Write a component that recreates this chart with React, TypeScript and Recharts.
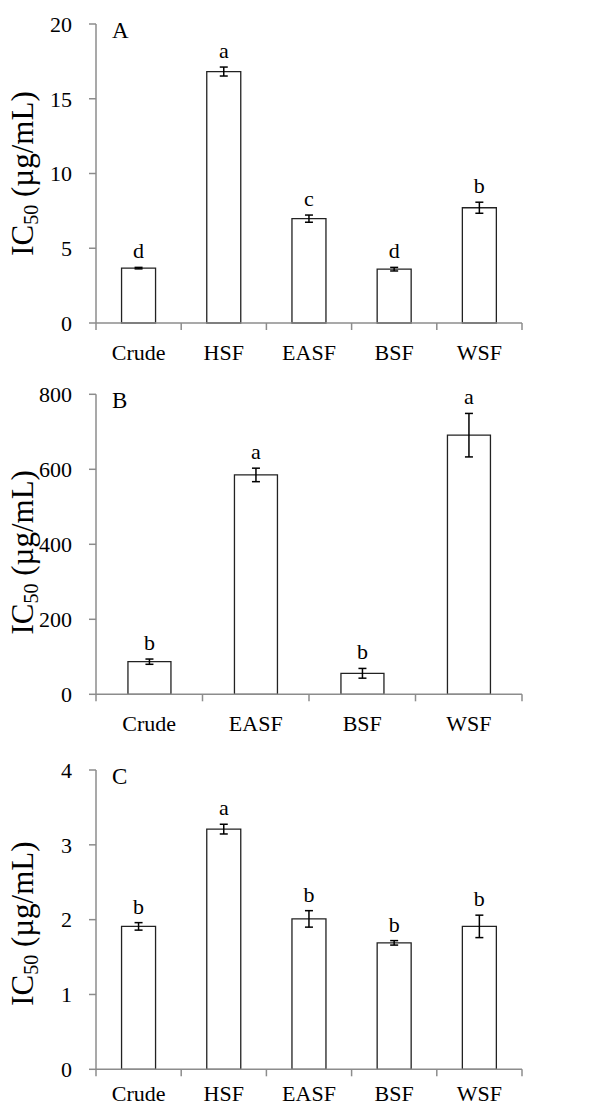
import React from "react";
import { BarChart, Bar, XAxis, YAxis, ErrorBar, Label, LabelList } from "recharts";

const SERIF = "'Liberation Serif', 'Times New Roman', serif";
const AXIS = "#8c8c8c";

// panel A
const catsA = ["Crude", "HSF", "EASF", "BSF", "WSF"];
const ic50A = [3.67, 16.82, 6.98, 3.6, 7.71];
const errA = [0.05, 0.3, 0.24, 0.12, 0.37];
const sigA = ["d", "a", "c", "d", "b"];
const ticksA = [0, 5, 10, 15, 20];

// panel B
const catsB = ["Crude", "EASF", "BSF", "WSF"];
const ic50B = [87, 585, 56, 691];
const errB = [7, 18, 13, 58];
const sigB = ["b", "a", "b", "a"];
const ticksB = [0, 200, 400, 600, 800];

// panel C
const catsC = ["Crude", "HSF", "EASF", "BSF", "WSF"];
const ic50C = [1.91, 3.21, 2.01, 1.69, 1.91];
const errC = [0.05, 0.065, 0.11, 0.03, 0.15];
const sigC = ["b", "a", "b", "b", "b"];
const ticksC = [0, 1, 2, 3, 4];

const PLOT_LEFT = 96;
const PLOT_RIGHT = 522;

type Row = { name: string; value: number; err: number; sig: string };

const rows = (cats: string[], vals: number[], errs: number[], sigs: string[]): Row[] =>
  cats.map((name, i) => ({ name, value: vals[i], err: errs[i], sig: sigs[i] }));

const CategoryTick = (props: any) => {
  const { x, y, payload, index, band, count, textDy } = props;
  const left = x - band / 2;
  return (
    <g>
      <line x1={left} y1={y} x2={left} y2={y + 7} stroke={AXIS} strokeWidth={1.5} />
      {index === count - 1 && (
        <line x1={x + band / 2} y1={y} x2={x + band / 2} y2={y + 7} stroke={AXIS} strokeWidth={1.5} />
      )}
      <text x={x} y={y + textDy} textAnchor="middle" fontSize={22} fontFamily={SERIF} fill="#000">
        {payload.value}
      </text>
    </g>
  );
};

function Panel({
  data,
  max,
  ticks,
  letter,
  top,
  height,
  xHeight,
  marginTop,
  labelShift,
  textDy,
}: {
  data: Row[];
  max: number;
  ticks: number[];
  letter: string;
  top: number;
  height: number;
  xHeight: number;
  marginTop: number;
  labelShift: number;
  textDy: number;
}) {
  const band = (PLOT_RIGHT - PLOT_LEFT) / data.length;

  const sigLabel = (p: any) => {
    const row = data[p.index];
    if (!row) return null;
    const pxPerUnit = p.height / row.value;
    const yTop = p.y - row.err * pxPerUnit - 9;
    return (
      <text x={p.x + p.width / 2} y={yTop} textAnchor="middle" fontSize={22} fontFamily={SERIF} fill="#000">
        {row.sig}
      </text>
    );
  };

  const axisTitle = (p: any) => {
    const vb = p.viewBox || {};
    const cy = vb.y + vb.height / 2 + labelShift;
    return (
      <g>
        <text
          x={33}
          y={cy}
          transform={`rotate(-90, 33, ${cy})`}
          textAnchor="middle"
          fontSize={31}
          fontFamily={SERIF}
          fill="#000"
        >
          IC
          <tspan fontSize={20} dy={5}>50</tspan>
          <tspan dy={-5}> (µg/mL)</tspan>
        </text>
        <text x={112} y={vb.y + 14} fontSize={23} fontFamily={SERIF} fill="#000">
          {letter}
        </text>
      </g>
    );
  };

  return (
    <div style={{ position: "absolute", left: 0, top }}>
      <BarChart
        width={594}
        height={height}
        data={data}
        margin={{ top: marginTop, right: 594 - PLOT_RIGHT, left: 0, bottom: 0 }}
        barCategoryGap="30%"
      >
        <XAxis
          dataKey="name"
          height={xHeight}
          axisLine={{ stroke: AXIS, strokeWidth: 1.5 }}
          tickLine={false}
          tickSize={0}
          tickMargin={0}
          interval={0}
          tick={<CategoryTick band={band} count={data.length} textDy={textDy} />}
        />
        <YAxis
          width={PLOT_LEFT}
          domain={[0, max]}
          ticks={ticks}
          interval={0}
          axisLine={{ stroke: AXIS, strokeWidth: 1.5 }}
          tickLine={{ stroke: AXIS, strokeWidth: 1.5 }}
          tickSize={7}
          tickMargin={17}
          tick={{ fontSize: 22, fontFamily: SERIF, fill: "#000" }}
        >
          <Label content={axisTitle} />
        </YAxis>
        <Bar dataKey="value" fill="#fff" stroke="#222" strokeWidth={1.3} isAnimationActive={false}>
          <ErrorBar dataKey="err" width={4} stroke="#000" strokeWidth={1.5} />
          <LabelList dataKey="sig" content={sigLabel} />
        </Bar>
      </BarChart>
    </div>
  );
}

export default function App() {
  return (
    <div style={{ position: "absolute", left: 0, top: 0, width: 594, height: 1108, background: "#fff" }}>
      <Panel
        data={rows(catsA, ic50A, errA, sigA)}
        max={20}
        ticks={ticksA}
        letter="A"
        top={0}
        height={370}
        xHeight={47}
        marginTop={24}
        labelShift={0}
        textDy={37}
      />
      <Panel
        data={rows(catsB, ic50B, errB, sigB)}
        max={800}
        ticks={ticksB}
        letter="B"
        top={370}
        height={370}
        xHeight={45.7}
        marginTop={24.3}
        labelShift={8}
        textDy={37}
      />
      <Panel
        data={rows(catsC, ic50C, errC, sigC)}
        max={4}
        ticks={ticksC}
        letter="C"
        top={746}
        height={362}
        xHeight={38.7}
        marginTop={24}
        labelShift={4}
        textDy={32}
      />
    </div>
  );
}
